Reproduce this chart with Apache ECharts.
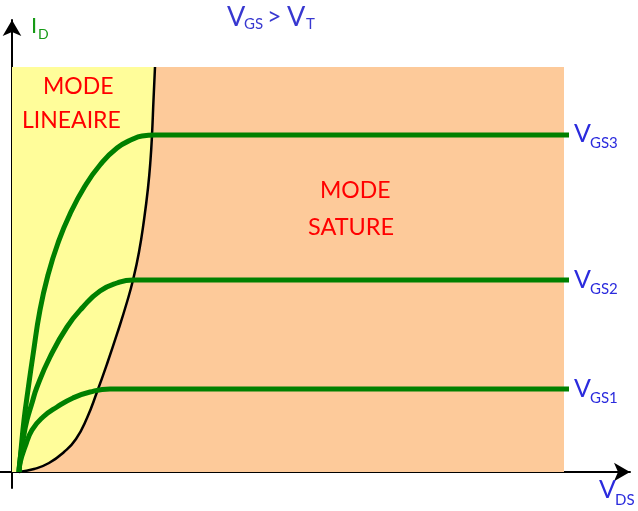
<!DOCTYPE html>
<html><head><meta charset="utf-8">
<script src="https://cdn.jsdelivr.net/npm/echarts@6/dist/echarts.min.js"></script>
<style>html,body{margin:0;padding:0;background:#fff}#c{width:638px;height:511px}</style>
</head><body><div id="c"></div>
<script>
// Output characteristics of a MOSFET (arbitrary units)
const vgs3X = [7, 9, 12, 16, 21, 28, 36, 46, 58, 73, 88, 105, 121, 130, 143, 557];
const vgs3Y = [0, 22, 52, 82, 117, 162, 197, 229, 258, 286, 307, 324, 333, 336, 337, 337];
const vgs2X = [7, 8, 11, 15, 20, 25, 38, 55, 71, 88, 105, 121, 557];
const vgs2Y = [0, 12, 32, 52, 69, 85, 115, 145, 165, 181, 189, 192, 192];
const vgs1X = [7, 8, 13, 20, 31, 45, 61, 78, 98, 118, 557];
const vgs1Y = [0, 9, 25, 42, 55, 65, 74, 80, 83, 83, 83];
// boundary between linear and saturation modes (V_DS = V_GS - V_T)
const limitX = [7, 22, 37, 52, 64, 75, 85, 95, 106, 115, 121, 127, 132, 136, 138.5, 140, 141.5, 143];
const limitY = [0, 3, 9, 20, 33, 54, 80, 108, 141, 170, 192, 220, 252, 284, 312, 337, 372, 405];
// regions
const satX = [0, 552];
const satY = [405, 405];
const linX = [0, 143];
const linY = [405, 405];
const curveNames = ['GS3', 'GS2', 'GS1'];

const zip = (xs, ys) => xs.map((x, i) => [x, ys[i]]);
const chart = echarts.init(document.getElementById('c'), null, {renderer: 'canvas'});
const FONT = 'Lato';
const green = '#008000';
const greenLine = (name, xs, ys) => ({
  type: 'line', name, data: zip(xs, ys), smooth: 0.5, showSymbol: false, symbol: 'none',
  lineStyle: {color: green, width: 5}, z: 5, silent: true
});
// text helper: x = left, b = baseline
const txt = (x, b, text, size, color) => ({
  type: 'text', x, y: b - 0.33 * size, z: 100,
  style: {text, x: 0, y: 0, fontFamily: FONT, fontSize: size, fill: color, align: 'left', verticalAlign: 'middle'}
});
const blue = '#2B2BDD';
chart.setOption({
  animation: false,
  grid: {left: 0, right: 8, top: 20, bottom: 23},
  xAxis: {type: 'value', min: -12, max: 618, splitLine: {show: false}, axisTick: {show: false}, axisLabel: {show: false},
    axisLine: {onZero: true, lineStyle: {color: '#000', width: 2}, symbol: ['none', 'arrow'], symbolSize: [14, 16]}},
  yAxis: {type: 'value', min: -16, max: 452, splitLine: {show: false}, axisTick: {show: false}, axisLabel: {show: false},
    axisLine: {onZero: true, lineStyle: {color: '#000', width: 2}, symbol: ['none', 'arrow'], symbolSize: [14, 16]}},
  series: [
    {type: 'line', data: zip(satX, satY), symbol: 'none', lineStyle: {width: 0}, areaStyle: {color: '#FDCA9A', opacity: 1}, z: 1, silent: true},
    {type: 'line', data: zip(linX, linY), symbol: 'none', lineStyle: {width: 0}, areaStyle: {color: '#FFFD9A', opacity: 1}, z: 2, silent: true},
    {type: 'line', data: zip(limitX, limitY), smooth: 0.5, symbol: 'none', lineStyle: {color: '#000', width: 2.5},
      areaStyle: {color: '#FDCA9A', opacity: 1}, z: 3, silent: true},
    greenLine(curveNames[0], vgs3X, vgs3Y),
    greenLine(curveNames[1], vgs2X, vgs2Y),
    greenLine(curveNames[2], vgs1X, vgs1Y)
  ],
  graphic: [
    txt(31, 33, 'I', 22, '#169A16'),
    txt(38, 39, 'D', 14, '#169A16'),
    txt(227, 26, 'V', 27, '#3838D0'),
    txt(244, 29, 'GS', 15, '#3838D0'),
    txt(267, 25, '>', 25, '#3838D0'),
    txt(287, 26, 'V', 27, '#3838D0'),
    txt(306, 29, 'T', 15, '#3838D0'),
    txt(574, 142, 'V', 25, blue), txt(590, 148, curveNames[0], 15, blue),
    txt(574, 288, 'V', 25, blue), txt(590, 294, curveNames[1], 15, blue),
    txt(574, 397, 'V', 25, blue), txt(590, 403, curveNames[2], 15, blue),
    txt(599, 498, 'V', 25, blue), txt(615, 505, 'DS', 15, blue),
    txt(43, 94, 'MODE', 23, '#FF0000'),
    txt(22, 128, 'LINEAIRE', 23, '#FF0000'),
    txt(320, 198, 'MODE', 23, '#FF0000'),
    txt(308, 235, 'SATURE', 23.5, '#FF0000')
  ]
});
</script></body></html>
